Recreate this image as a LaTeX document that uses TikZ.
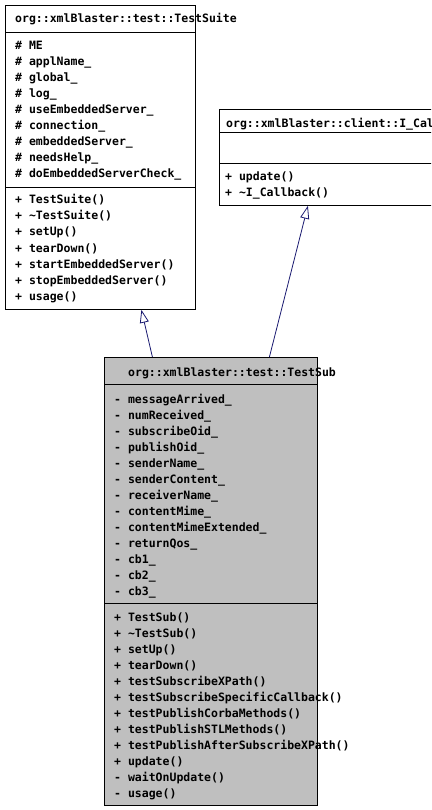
\documentclass[tikz,border=0pt]{standalone}
\usepackage{fontspec}
\setmonofont{DejaVu Sans Mono}
\usetikzlibrary{arrows.meta}
\definecolor{edgeblue}{HTML}{191970}
\definecolor{subgray}{HTML}{BFBFBF}

\begin{document}
\begin{tikzpicture}[x=1pt,y=-1pt]
 \tikzstyle{classbox}=[draw, line width=0.8pt, inner sep=0pt, anchor=north west]
 \tikzstyle{member}=[anchor=base west, inner sep=0pt, font=\ttfamily\bfseries\fontsize{11.5}{16}\selectfont]
 \tikzstyle{inherit}=[edgeblue, line width=0.8pt, -{Triangle[open, length=13pt, width=9pt]}]
  \useasboundingbox (0,0) rectangle (431,810);
  \clip (0,0) rectangle (431,810);
  % base class TestSuite
  \node[classbox, minimum width=190pt, minimum height=304pt] at (5,5) (suite) {};
  \draw[line width=0.8pt] (5,32) -- (195,32) (5,187) -- (195,187);
  \node[member] at (15,23) (suite-t) {org::xmlBlaster::test::TestSuite};
  \foreach \txt [count=\i from 0] in {\# ME, \# applName\_, \# global\_, \# log\_,
    \# useEmbeddedServer\_, \# connection\_, \# embeddedServer\_, \# needsHelp\_,
    \# doEmbeddedServerCheck\_}
    \node[member] at (15,50+16*\i) (suite-a\i) {\txt};
  \foreach \txt [count=\i from 0] in {+ TestSuite(), + \textasciitilde TestSuite(), + setUp(),
    + tearDown(), + startEmbeddedServer(), + stopEmbeddedServer(), + usage()}
    \node[member] at (15,204+16*\i) (suite-m\i) {\txt};
  % interface I_Callback
  \node[classbox, minimum width=221pt, minimum height=96pt] at (219,109) (cb) {};
  \draw[line width=0.8pt] (219,132) -- (440,132) (219,163) -- (440,163);
  \node[member] at (226,128) (cb-t) {org::xmlBlaster::client::I\_Callback};
  \node[member] at (225,181) (cb-m0) {+ update()};
  \node[member] at (225,197) (cb-m1) {+ \textasciitilde I\_Callback()};
  % derived class TestSub
  \node[classbox, fill=subgray, minimum width=213pt, minimum height=448pt] at (104,357) (sub) {};
  \draw[line width=0.8pt] (104,384) -- (317,384) (104,603) -- (317,603);
  \node[member] at (128,376) (sub-t) {org::xmlBlaster::test::TestSub};
  \foreach \txt [count=\i from 0] in {- messageArrived\_, - numReceived\_, - subscribeOid\_,
    - publishOid\_, - senderName\_, - senderContent\_, - receiverName\_, - contentMime\_,
    - contentMimeExtended\_, - returnQos\_, - cb1\_, - cb2\_, - cb3\_}
    \node[member] at (114,403+16*\i) (sub-a\i) {\txt};
  \foreach \txt [count=\i from 0] in {+ TestSub(), + \textasciitilde TestSub(), + setUp(),
    + tearDown(), + testSubscribeXPath(), + testSubscribeSpecificCallback(),
    + testPublishCorbaMethods(), + testPublishSTLMethods(),
    + testPublishAfterSubscribeXPath(), + update(), - waitOnUpdate(), - usage()}
    \node[member] at (114,621+16*\i) (sub-m\i) {\txt};
  % generalisations
  \draw[inherit] ([xshift=-58.5pt]sub.north) -- ([xshift=41pt]suite.south);
  \draw[inherit] ([xshift=58.5pt]sub.north) -- ([xshift=-22pt]cb.south);
\end{tikzpicture}
\end{document}
